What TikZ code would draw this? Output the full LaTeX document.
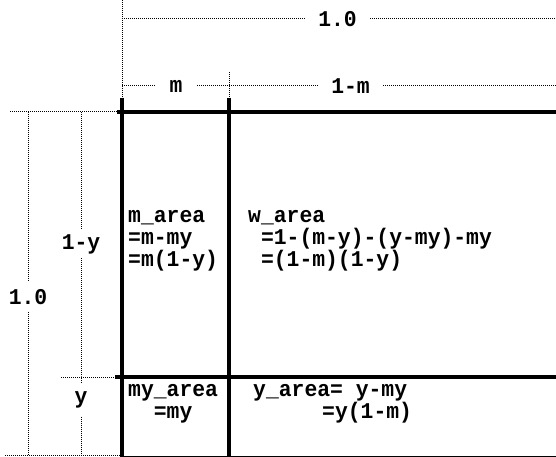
\documentclass[tikz,border=0pt]{standalone}
\usepackage{fontspec}
\setmonofont[FakeStretch=0.95]{Liberation Mono}
\begin{document}
\begin{tikzpicture}[x=1pt,y=-1pt,
  boxline/.style={line width=4pt},
  dimline/.style={line width=1pt, dash pattern=on 0.9pt off 1.1pt},
  lbl/.style={font=\ttfamily\bfseries\fontsize{22.5}{22}\selectfont, inner sep=0pt},
  area/.style={lbl, align=left, anchor=west}]
\useasboundingbox (0,0) rectangle (556,457);
% box lines
\coordinate (A) at (122,98); \coordinate (A1) at (122,459);
\coordinate (B) at (229,98); \coordinate (B1) at (229,459);
\coordinate (H1l) at (117,112); \coordinate (H1r) at (556,112);
\coordinate (H2l) at (115,377); \coordinate (H2r) at (556,377);
\coordinate (H3l) at (120,457.5); \coordinate (H3r) at (556,457.5);
\draw[boxline] (A) -- (A1);
\draw[boxline] (B) -- (B1);
\draw[boxline] (H1l) -- (H1r);
\draw[boxline] (H2l) -- (H2r);
\draw[boxline] (H3l) -- (H3r);
% extension lines
\coordinate (e0) at (122,0); \draw[dimline] (e0) -- (A);
\coordinate (e1) at (229,72); \draw[dimline] (e1) -- (B);
\coordinate (l0) at (10,112); \coordinate (l0e) at (120,112); \draw[dimline] (l0) -- (l0e);
\coordinate (h0) at (61,377); \coordinate (h0e) at (120,377); \draw[dimline] (h0) -- (h0e);
\coordinate (b0) at (5,455); \coordinate (b1) at (120,455); \draw[dimline] (b0) -- (b1);
% top dimension 1.0
\coordinate (t0) at (122,19); \coordinate (t1) at (556,19);
\node[lbl, minimum width=65pt] (T10) at (337.5,19) {1.0};
\draw[dimline] (t0) -- (T10.west);
\draw[dimline] (T10.east) -- (t1);
% m and 1-m
\coordinate (m0) at (122,86); \coordinate (m1) at (229,86); \coordinate (m2) at (556,86);
\node[lbl, minimum width=42pt] (M) at (176,86) {m};
\node[lbl, minimum width=65pt] (OM) at (350.5,86) {1-m};
\draw[dimline] (m0) -- (M.west);
\draw[dimline] (M.east) -- (m1) -- (OM.west);
\draw[dimline] (OM.east) -- (m2);
% left 1.0
\coordinate (v0) at (28,112); \coordinate (v1) at (28,455);
\node[lbl, minimum height=30pt] (L10) at (28,297) {1.0};
\draw[dimline] (v0) -- (L10.north);
\draw[dimline] (L10.south) -- (v1);
% 1-y and y
\coordinate (w0) at (81,112); \coordinate (w1) at (81,377); \coordinate (w2) at (81,455);
\node[lbl, minimum height=28pt] (LY) at (81,244) {1-y};
\node[lbl, minimum height=33pt] (Y) at (81,400) {y};
\draw[dimline] (w0) -- (LY.north);
\draw[dimline] (LY.south) -- (w1) -- (Y.north);
\draw[dimline] (Y.south) -- (w2);
% area texts
\node[area] (marea) at (128,241) {m\_area\\=m-my\\=m(1-y)};
\node[area] (warea) at (248,241) {w\_area\\\hphantom{=}=1-(m-y)-(y-my)-my\\\hphantom{=}=(1-m)(1-y)};
\node[area] (myarea) at (128,404) {my\_area\\\hphantom{==}=my};
\node[area] (yarea) at (253,404) {y\_area= y-my\\\hspace*{69pt}=y(1-m)};
\end{tikzpicture}
\end{document}
